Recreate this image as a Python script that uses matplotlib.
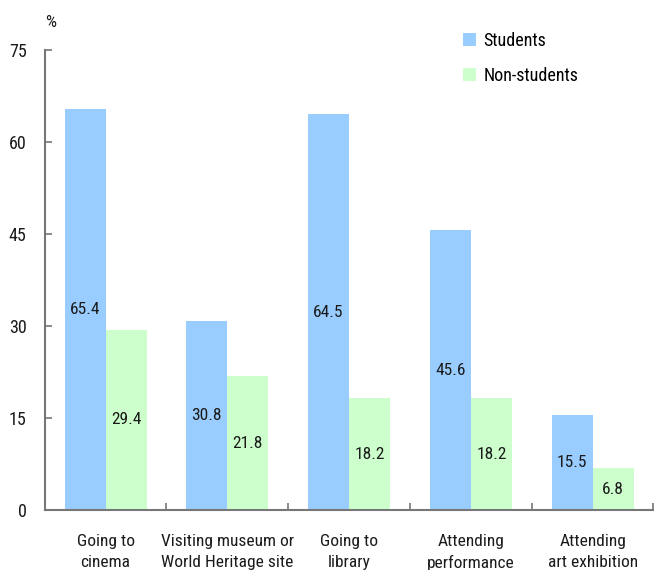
import numpy as np
import matplotlib.pyplot as plt
from matplotlib import font_manager as fm
from matplotlib.ticker import FixedLocator

# narrow sans face if one is installed
have = {f.name for f in fm.fontManager.ttflist}
prefs = ['Liberation Sans Narrow', 'Arial Narrow', 'Nimbus Sans Narrow', 'Roboto Condensed',
         'Open Sans Condensed', 'PT Sans Narrow', 'Archivo Narrow']
narrow = [n for n in prefs if n in have]
plt.rcParams['font.family'] = narrow[:1] + ['Liberation Sans', 'DejaVu Sans']
fs = 12.5 if narrow else 11

categories = ['Going to\ncinema', 'Visiting museum or\nWorld Heritage site', 'Going to\nlibrary',
              'Attending\nperformance', 'Attending\nart exhibition']
students = [65.4, 30.8, 64.5, 45.6, 15.5]
non_students = [29.4, 21.8, 18.2, 18.2, 6.8]

blue = '#99CCFF'
green = '#CCFFCC'
axis_col = '#777777'
txt_col = '#1a1a1a'

fig = plt.figure(figsize=(6.54, 5.7), dpi=100)
ax = fig.add_axes([0.0683, 0.1053, 0.9309, 0.807])

x = np.arange(len(categories))
w = 0.337
b1 = ax.bar(x - w / 2, students, w, color=blue, label='Students')
b2 = ax.bar(x + w / 2, non_students, w, color=green, label='Non-students')

for bars, vals in ((b1, students), (b2, non_students)):
    for r, v in zip(bars, vals):
        ax.text(r.get_x() + r.get_width() / 2, v / 2, f'{v:.1f}', ha='center', va='center',
                fontsize=fs, color=txt_col)

ax.set_xlim(-0.5, 4.5)
ax.set_ylim(0, 75)
ax.set_yticks([0, 15, 30, 45, 60, 75])
ax.set_xticks(x)
ax.set_xticklabels(categories, fontsize=fs, linespacing=1.5, color=txt_col)
ax.xaxis.set_minor_locator(FixedLocator(np.arange(-0.5, 5, 1)))
ax.tick_params(axis='x', which='major', length=0, pad=17)
ax.tick_params(axis='x', which='minor', direction='in', length=5, width=1.2, color=axis_col)
ax.tick_params(axis='y', direction='in', length=5, width=1.2, color=axis_col,
               labelsize=fs + 0.5, labelcolor=txt_col, pad=13)

for s in ('top', 'right'):
    ax.spines[s].set_visible(False)
for s in ('left', 'bottom'):
    ax.spines[s].set_color(axis_col)
    ax.spines[s].set_linewidth(1.5)

ax.text(0.0, 1.06, '%', transform=ax.transAxes, fontsize=fs, color=txt_col, ha='left', va='center')

ax.legend(loc='upper left', bbox_to_anchor=(0.66, 1.075), frameon=False, fontsize=fs + 0.5,
          handlelength=0.75, handleheight=0.75, handletextpad=0.4, labelspacing=0.95)

fig.savefig('out.png', dpi=100)
